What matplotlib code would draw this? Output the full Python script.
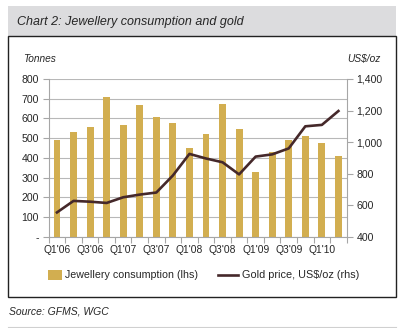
import matplotlib
matplotlib.use("Agg")
import matplotlib.pyplot as plt
from matplotlib.patches import Rectangle
from matplotlib.lines import Line2D
from matplotlib.ticker import FixedLocator, FuncFormatter

plt.rcParams['font.family'] = ['Liberation Sans', 'DejaVu Sans']

quarters = ["Q1'06", "Q2'06", "Q3'06", "Q4'06", "Q1'07", "Q2'07", "Q3'07", "Q4'07",
            "Q1'08", "Q2'08", "Q3'08", "Q4'08", "Q1'09", "Q2'09", "Q3'09", "Q4'09",
            "Q1'10", "Q2'10"]
jewellery_tonnes = [491, 531, 558, 710, 567, 670, 606, 579, 450, 523, 675, 548,
                    328, 430, 489, 511, 474, 408]
gold_price = [554, 627, 622, 614, 650, 667, 680, 788, 925, 896, 872, 795,
              908, 922, 960, 1100, 1109, 1197]
left_ticks = [0, 100, 200, 300, 400, 500, 600, 700, 800]
right_ticks = [400, 600, 800, 1000, 1200, 1400]

W, H = 411, 328
fig = plt.figure(figsize=(W / 100, H / 100), dpi=100)

def fx(px):
    return px / W

def fy(py):
    return 1 - py / H

bar_color = '#D2AE50'
line_color = '#45282A'
axis_grey = '#A6A6A6'
text_color = '#262626'

# Title band and frame
fig.patches.append(Rectangle((fx(8), fy(36)), fx(388), 30 / H, transform=fig.transFigure,
                             facecolor='#DCDCDE', edgecolor='none', zorder=0))
fig.patches.append(Rectangle((fx(8), fy(297)), fx(388), 261 / H, transform=fig.transFigure,
                             facecolor='none', edgecolor='#222222', linewidth=1.0, zorder=1))
fig.lines.append(Line2D([fx(8), fx(396)], [fy(327), fy(327)], transform=fig.transFigure,
                        color='#D0D0D0', linewidth=0.8))
fig.text(fx(17), fy(22), "Chart 2: Jewellery consumption and gold", fontsize=9.0,
         style='italic', va='center', ha='left', color=text_color)
fig.text(fx(23.5), fy(59), "Tonnes", fontsize=7.3, style='italic',
         va='center', ha='left', color=text_color)
fig.text(fx(381), fy(59), "US$/oz", fontsize=7.3, style='italic',
         va='center', ha='right', color=text_color)
fig.text(fx(9), fy(311), "Source: GFMS, WGC", fontsize=7.5, style='italic',
         va='center', ha='left', color=text_color)

ax = fig.add_axes([fx(48.7), fy(236.7), fx(298), (236.7 - 79) / H])
x = list(range(len(quarters)))
ax.bar(x, jewellery_tonnes, width=0.42, color=bar_color, zorder=2)
ax.set_xlim(-0.5, len(quarters) - 0.5)
ax.set_ylim(0, 800)
ax.yaxis.set_major_locator(FixedLocator(left_ticks))
ax.yaxis.set_major_formatter(FuncFormatter(lambda v, p: '-' if v == 0 else f'{int(v)}'))
ax.grid(axis='y', color='#B8B8B8', linewidth=0.8, zorder=0)
ax.set_axisbelow(True)

ax.set_xticks(x[::2])
ax.set_xticklabels(quarters[::2])
ax.set_xticks([i - 0.5 for i in range(len(quarters) + 1)], minor=True)
ax.tick_params(axis='x', which='major', length=0, pad=6, labelsize=7.4, labelcolor=text_color)
ax.tick_params(axis='x', which='minor', length=4, color=axis_grey, width=0.8)
ax.tick_params(axis='y', length=4, color=axis_grey, width=0.8, pad=3,
               labelsize=7.6, labelcolor=text_color)

for s in ['top', 'right']:
    ax.spines[s].set_visible(False)
for s in ['left', 'bottom']:
    ax.spines[s].set_color(axis_grey)
    ax.spines[s].set_linewidth(0.8)

ax2 = ax.twinx()
ax2.plot(x, gold_price, color=line_color, linewidth=1.9, zorder=3)
ax2.set_ylim(400, 1400)
ax2.yaxis.set_major_locator(FixedLocator(right_ticks))
ax2.yaxis.set_major_formatter(FuncFormatter(lambda v, p: f'{int(v):,}'))
ax2.tick_params(axis='y', length=4, color=axis_grey, width=0.8, pad=3,
                labelsize=7.6, labelcolor=text_color)
for s in ['top', 'left', 'bottom']:
    ax2.spines[s].set_visible(False)
ax2.spines['right'].set_color(axis_grey)
ax2.spines['right'].set_linewidth(0.8)

# Legend
fig.patches.append(Rectangle((fx(48), fy(280)), fx(14), 10 / H, transform=fig.transFigure,
                             facecolor=bar_color, edgecolor='none'))
fig.text(fx(65), fy(275), "Jewellery consumption (lhs)", fontsize=7.7,
         va='center', ha='left', color=text_color)
fig.lines.append(Line2D([fx(218), fx(238)], [fy(274.5), fy(274.5)], transform=fig.transFigure,
                        color=line_color, linewidth=1.9))
fig.text(fx(242), fy(275), "Gold price, US$/oz (rhs)", fontsize=7.8,
         va='center', ha='left', color=text_color)

fig.savefig("out.png", dpi=100)
